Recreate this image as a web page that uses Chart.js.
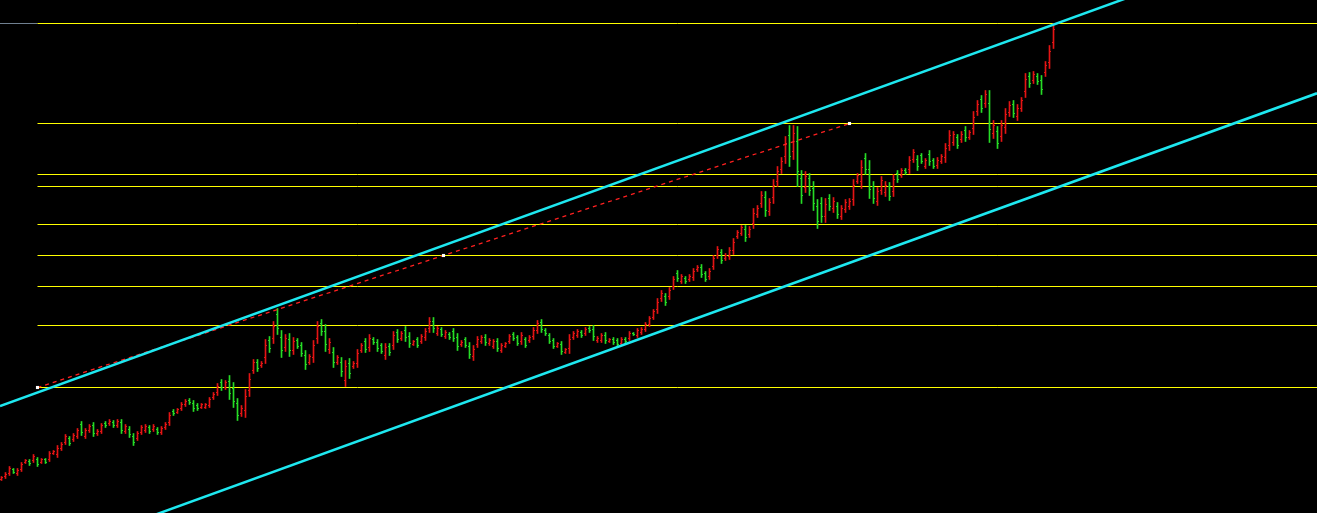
<!DOCTYPE html>
<html lang="es">
<head>
<meta charset="utf-8">
<title>Canal alcista</title>
<script src="https://cdn.jsdelivr.net/npm/chart.js@4.4.1/dist/chart.umd.min.js"></script>
<style>
  html, body { margin: 0; padding: 0; background: #000; overflow: hidden; }
  #wrap { position: relative; width: 1317px; height: 513px; }
</style>
</head>
<body>
<div id="wrap"><canvas id="precioChart"></canvas></div>
<script>
// Datos OHLC (una barra por índice)
const highs = [
  37,41,47,45,45,51,54,54,59,56, 55,55,62,63,68,71,79,77,80,85,
  92,85,89,91,84,90,92,94,93,94, 94,89,87,80,82,88,89,88,89,86,
  87,91,101,104,105,111,114,115,113,110, 110,110,116,121,130,134,133,138,131,115,
  108,124,140,154,154,152,174,177,192,205, 183,179,180,176,175,171,163,159,173,192,
  194,189,175,166,158,156,153,155,152,164, 170,175,179,176,174,170,170,170,182,184,
  182,187,181,173,176,179,185,196,196,187, 186,183,181,185,180,173,176,171,168,177,
  178,179,175,174,175,170,171,179,181,178, 181,176,178,186,193,194,185,180,175,171,
  172,165,179,182,184,183,186,187,188,177, 180,181,175,176,175,176,176,182,181,185,
  186,191,197,204,215,223,220,226,237,243, 239,237,239,245,248,249,242,245,258,267,
  264,260,266,275,283,288,288,287,305,308, 322,322,315,334,347,356,377,388,388,387,
  343,342,340,332,314,316,315,319,316,311, 308,314,315,334,340,353,360,353,332,326,
  337,332,331,339,343,345,345,357,364,358, 360,355,363,355,356,359,370,383,382,379,
  382,387,383,402,413,418,423,423,393,387, 393,405,412,413,409,416,440,441,442,440,
  438,452,468,490
];
const lows = [
  33,35,38,40,38,42,50,48,51,47, 50,50,52,59,56,63,69,68,72,75,
  78,75,81,77,78,80,86,88,86,86, 80,80,76,68,73,79,81,80,82,79,
  79,84,88,98,100,103,107,109,102,103, 105,105,106,114,118,123,124,114,106,93,
  97,96,117,140,142,146,150,161,170,179, 156,162,157,159,165,157,144,149,151,170,
  178,162,160,146,149,137,127,135,145,146, 161,161,162,169,162,160,154,158,164,171,
  173,172,166,168,166,170,173,181,181,178, 177,175,174,172,163,167,166,155,153,166,
  170,168,168,165,162,161,166,170,173,168, 169,166,171,174,180,181,178,170,165,166,
  159,160,160,174,176,176,178,181,173,171, 171,170,171,169,167,168,170,173,178,176,
  179,182,187,194,200,212,208,214,224,232, 230,230,232,233,242,236,232,234,244,255,
  250,253,254,259,275,278,272,276,285,296, 306,297,298,310,327,340,350,347,354,327,
  310,321,318,303,285,291,291,303,301,295, 294,301,304,308,330,325,339,315,310,308,
  319,317,313,317,331,336,339,340,351,343, 350,345,348,345,345,350,351,363,368,365,
  371,372,374,379,398,401,406,371,375,365, 372,380,397,396,393,402,416,426,430,429,
  419,437,445,465
];
const opens = [
  34,37,40,44,40,44,51,52,53,54, 51,54,54,60,59,65,71,75,74,77,
  89,77,83,88,80,82,90,90,91,88, 91,82,84,77,75,81,83,86,84,84,
  81,86,91,102,101,105,109,113,110,108, 106,106,108,116,121,131,126,132,125,110,
  100,103,123,143,151,148,156,173,175,199, 176,166,174,163,173,168,158,151,156,175,
  190,182,164,161,151,151,133,150,147,150, 163,172,166,174,171,168,158,167,168,181,
  175,183,177,169,174,172,176,185,192,180, 184,177,179,182,176,169,174,167,157,169,
  172,176,170,167,172,163,167,172,179,176, 172,174,173,177,183,191,183,178,173,167,
  169,161,165,176,178,181,180,185,184,173, 173,178,172,174,173,170,174,175,180,178,
  181,184,189,196,204,215,217,217,227,240, 232,235,234,236,244,246,240,237,247,258,
  261,255,257,263,277,280,284,279,290,299, 310,316,302,316,332,344,357,378,362,372,
  335,326,335,325,307,310,297,315,305,307, 297,304,307,314,332,332,355,344,327,312,
  323,321,327,322,340,338,343,344,354,354, 358,347,359,353,348,352,356,368,371,376,
  374,383,376,385,402,414,410,410,380,382, 377,386,401,409,397,405,422,437,433,437,
  433,441,451,471
];
const closes = [
  36,39,45,41,43,49,53,50,57,49, 54,51,60,62,65,69,77,70,78,83,
  81,83,87,80,82,88,88,92,88,92, 83,87,79,71,80,86,87,82,87,81,
  85,89,98,100,104,109,112,111,105,105, 109,109,114,119,127,126,131,120,112,98,
  105,117,134,151,145,150,168,165,187,185, 163,175,163,172,167,160,149,157,168,187,
  182,169,171,151,156,142,147,140,150,160, 168,164,175,171,165,162,166,161,178,174,
  180,176,170,172,168,177,182,192,185,185, 179,181,176,175,167,171,168,159,164,174,
  176,171,173,172,165,168,170,177,175,170, 178,168,176,183,190,184,180,172,167,170,
  162,164,174,180,182,178,184,183,177,175, 178,173,174,171,169,174,172,180,179,183,
  184,189,195,202,211,220,211,223,234,235, 237,232,237,242,246,239,234,242,255,264,
  253,258,263,271,281,286,276,284,300,305, 318,303,311,328,342,352,370,357,380,342,
  318,337,323,310,292,297,309,307,312,299, 305,311,312,328,338,346,344,324,315,322,
  333,328,317,334,334,343,341,353,361,347, 352,353,352,347,353,357,365,378,379,368,
  379,376,381,396,409,405,419,384,388,370, 388,399,408,400,405,413,434,430,439,432,
  424,448,462,484
];

// Niveles horizontales (amarillos)
const niveles = [490, 390, 339, 327, 289, 258, 227, 188, 126];
const inicioNiveles = 9;

// Canal (dos rectas paralelas), extremos en índice de barra / precio
const canalSupX = [-0.375, 328.875];
const canalSupY = [107.5, 584.3];
const canalInfX = [-0.375, 328.875];
const canalInfY = [-57.5, 420.2];

// Línea discontinua y sus anclas
const trazoX = [9, 110.5, 212];
const trazoY = [126, 258, 390];

const ROJO = '#e41414';
const VERDE = '#26dc26';
const AMARILLO = '#ffff00';
const CIAN = '#1ee8f0';

const X_MIN = -0.375, X_MAX = 328.875;

const colorVela = i => closes[i] >= opens[i] ? ROJO : VERDE;

const velas = highs.map((h, i) => ({ x: i, y: [lows[i], h] }));
const ticksApertura = opens.map((o, i) => ({ x: i - 0.25, y: o }));
const ticksCierre = closes.map((c, i) => ({ x: i + 0.25, y: c }));

const datasets = [];

// Niveles
niveles.forEach(v => {
  datasets.push({
    type: 'line',
    data: [{ x: inicioNiveles, y: v }, { x: X_MAX, y: v }],
    borderColor: AMARILLO,
    borderWidth: 1,
    pointRadius: 0,
    order: 6
  });
});
// tramo gris a la izquierda del nivel superior
datasets.push({
  type: 'line',
  data: [{ x: X_MIN, y: niveles[0] }, { x: inicioNiveles, y: niveles[0] }],
  borderColor: '#708090',
  borderWidth: 1,
  pointRadius: 0,
  order: 6
});

// Barras OHLC: rango alto-bajo + ticks de apertura y cierre
datasets.push({
  type: 'bar',
  data: velas,
  backgroundColor: ctx => colorVela(ctx.dataIndex),
  barThickness: 1,
  borderWidth: 0,
  grouped: false,
  order: 5
});
[ticksApertura, ticksCierre].forEach(d => {
  datasets.push({
    type: 'scatter',
    data: d,
    pointStyle: 'line',
    pointRadius: 0.5,
    pointBorderWidth: 1,
    pointBorderColor: ctx => colorVela(ctx.dataIndex),
    order: 4
  });
});

// Línea discontinua roja
datasets.push({
  type: 'line',
  data: [{ x: trazoX[0], y: trazoY[0] }, { x: trazoX[2], y: trazoY[2] }],
  borderColor: '#ff2020',
  borderWidth: 1.3,
  borderDash: [4, 4],
  pointRadius: 0,
  order: 3
});
datasets.push({
  type: 'scatter',
  data: trazoX.map((x, i) => ({ x, y: trazoY[i] })),
  pointStyle: 'rect',
  pointRadius: 2.2,
  pointBackgroundColor: '#ffffff',
  pointBorderWidth: 0,
  order: 2
});

// Canal cian
[[canalSupX, canalSupY], [canalInfX, canalInfY]].forEach(([xs, ys]) => {
  datasets.push({
    type: 'line',
    data: xs.map((x, i) => ({ x, y: ys[i] })),
    borderColor: CIAN,
    borderWidth: 2.5,
    pointRadius: 0,
    order: 1
  });
});

new Chart(document.getElementById('precioChart'), {
  type: 'scatter',
  data: { datasets },
  options: {
    responsive: true,
    maintainAspectRatio: false,
    devicePixelRatio: 1,
    animation: false,
    events: [],
    layout: { padding: 0, autoPadding: false },
    plugins: {
      legend: { display: false },
      tooltip: { enabled: false }
    },
    scales: {
      x: { type: 'linear', min: X_MIN, max: X_MAX, display: false, offset: false },
      y: { type: 'linear', min: 0.5, max: 513.5, display: false }
    }
  }
});
</script>
</body>
</html>
